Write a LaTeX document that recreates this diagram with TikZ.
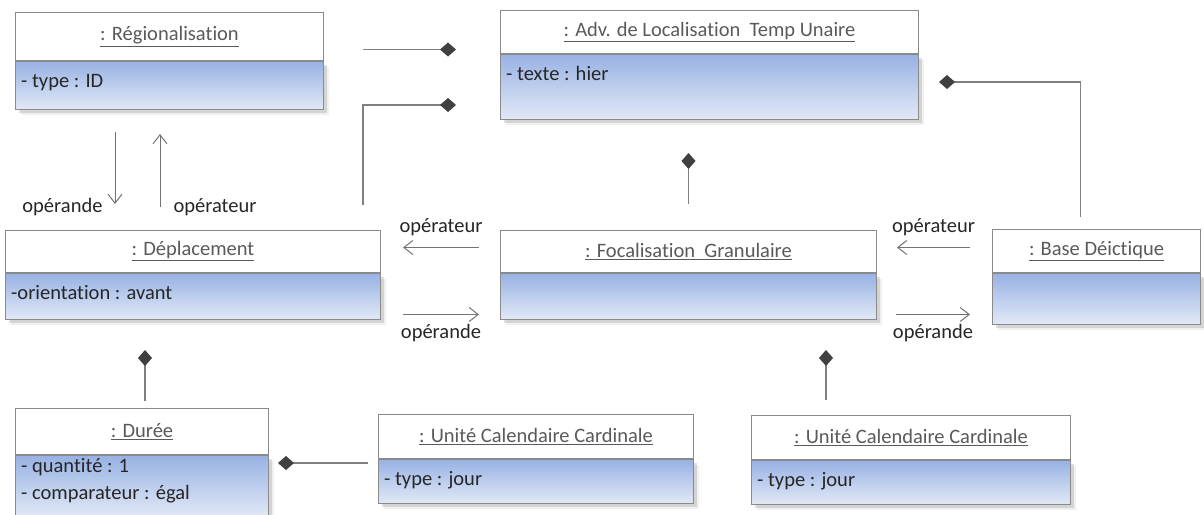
\documentclass[tikz,border=0pt]{standalone}
\usepackage{fontspec}
\setmainfont{Carlito}[Ligatures=NoCommon]
\usepackage{tikz}
\usetikzlibrary{calc, positioning, arrows.meta, shadows}
\definecolor{boxLine}{RGB}{138, 138, 138}
\definecolor{bodyTop}{RGB}{152, 178, 228}
\definecolor{bodyBot}{RGB}{226, 233, 246}
\definecolor{titleGray}{RGB}{90, 90, 90}
\definecolor{linkGray}{RGB}{128, 128, 128}
\definecolor{diaGray}{RGB}{64, 64, 64}

\tikzset{
  objhead/.style={draw=boxLine, fill=white, text=titleGray, line width=1pt,
    inner sep=0pt, anchor=north west},
  objbody/.style={draw=boxLine, top color=bodyTop, bottom color=bodyBot,
    line width=1pt, inner sep=0pt,
    drop shadow={shadow xshift=3pt, shadow yshift=-3pt, opacity=.25},
    drop shadow={shadow xshift=5pt, shadow yshift=-5pt, opacity=.12}},
  objattr/.style={anchor=north west, inner sep=0pt, align=left, text=black!85},
  comp/.style={draw=linkGray, line width=1.2pt,
    -{Diamond[length=16pt, width=14pt, color=diaGray, fill=diaGray]}},
  flow/.style={draw=linkGray!90!black, line width=1pt,
    -{Straight Barb[length=9pt, width=14pt]}},
  rolelab/.style={inner sep=0pt, anchor=base, text=black!85},
}

% object box: [attr offset] name, corner, width, head h, body h, title, attributes
\newcommand{\objbox}[8][7]{%
  \node[objhead, minimum width=#4, minimum height=#5] (#2) at #3 {\underline{: #7}};
  \node[objbody, minimum width=#4, minimum height=#6, below=0pt of #2] (#2B) {};
  \if\relax\detokenize{#8}\relax\else
    \node[objattr] (#2A) at ($(#2B.north west)+(6,#1)$) {\strut #8};
  \fi
}

\begin{document}
\begin{tikzpicture}[x=1pt, y=-1pt, font=\fontsize{20.5}{27}\selectfont]
  \useasboundingbox (0,0) rectangle (1204,514);

  % objects
  \objbox{reg}{(15,12)}{308}{48}{48}{Régionalisation}{- type : ID}
  \objbox{adv}{(500,10)}{418}{43}{65}{Adv. de Localisation\ \ Temp Unaire}{- texte : hier}
  \objbox{dep}{(5,230)}{375}{42}{46}{Déplacement}{-orientation : avant}
  \objbox{foc}{(500,230)}{376}{42}{46}{Focalisation\ \ Granulaire}{}
  \objbox{base}{(992,229)}{208}{43}{51}{Base Déictique}{}
  \objbox[-2]{dur}{(15,408)}{253}{46}{62}{Durée}{- quantité : 1\\- comparateur : égal}
  \objbox{uc1}{(378,414)}{315}{44}{44}{Unité Calendaire Cardinale}{- type : jour}
  \objbox{uc2}{(751,415)}{319}{44}{44}{Unité Calendaire Cardinale}{- type : jour}

  % compositions
  \draw[comp] ($(reg.east)+(39,13)$) -- ($(reg.east -| adv.west)+(-44,13)$);
  \draw[comp] ($(dep.north east)+(-18,-25)$) |- ($(advB.west)+(-44,18)$);
  \draw[comp] ($(base.north)+(-16,-12)$) |- ($(advB.east)+(20,-5)$);
  \draw[comp] ($(foc.north)+(0,-26)$) -- ($(foc.north |- advB.south)+(0,33)$);
  \draw[comp] ($(dur.north)+(3,-7)$) -- ($(dur.north |- depB.south)+(3,30)$);
  \draw[comp] ($(uc1B.north west)+(-10,4)$) -- ($(uc1B.north west -| durB.east)+(9,4)$);
  \draw[comp] ($(uc2.north west)+(75,-15)$) -- ($(uc2.north west |- focB.south)+(75,30)$);

  % roles
  \draw[flow] ($(regB.south west)+(100,22)$) -- ($(regB.south west)+(100,94)$)
    node[rolelab, anchor=base east, xshift=-12pt, yshift=-8pt] {opérande};
  \draw[flow] ($(regB.south west)+(145,97)$) -- ($(regB.south west)+(145,24)$)
    node[rolelab, pos=0, anchor=base west, xshift=13pt, yshift=-5pt] {opérateur};
  \draw[flow] ($(foc.west)+(-21,-4)$) -- ($(dep.east)+(22,-4)$)
    node[rolelab, midway, yshift=15pt] {opérateur};
  \draw[flow] ($(depB.east)+(22,18)$) -- ($(focB.west)+(-21,18)$)
    node[rolelab, midway, yshift=-24pt] {opérande};
  \draw[flow] ($(foc.east -| base.west)+(-22,-4)$) -- ($(foc.east)+(20,-4)$)
    node[rolelab, midway, yshift=15pt] {opérateur};
  \draw[flow] ($(focB.east)+(19,18)$) -- ($(focB.east -| baseB.west)+(-22,18)$)
    node[rolelab, midway, yshift=-24pt] {opérande};
\end{tikzpicture}
\end{document}
